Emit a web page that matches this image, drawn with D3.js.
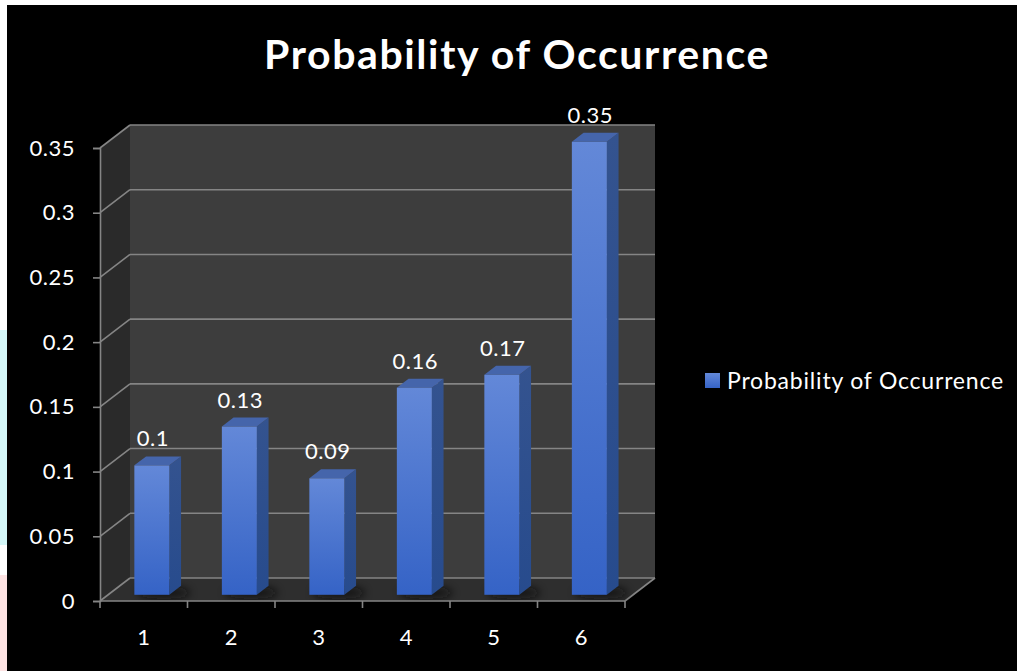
<!DOCTYPE html>
<html>
<head>
<meta charset="utf-8">
<script src="https://cdn.jsdelivr.net/npm/d3@7"></script>
<style>
  html, body { margin: 0; padding: 0; background: #fff; }
  svg { display: block; }
</style>
</head>
<body>
<svg id="chart" width="1017" height="671"></svg>
<script>
// Chart data
const categories = ["1", "2", "3", "4", "5", "6"];
const probabilities = [0.10, 0.13, 0.09, 0.16, 0.17, 0.35];
const yTicks = [0, 0.05, 0.1, 0.15, 0.2, 0.25, 0.3, 0.35];
const yTickLabels = ["0", "0.05", "0.1", "0.15", "0.2", "0.25", "0.3", "0.35"];
const seriesName = "Probability of Occurrence";
const chartTitle = "Probability of Occurrence";

const W = 1017, H = 671;
const FONT = "Lato, 'Open Sans', sans-serif";
const svg = d3.select("#chart");

// page edge behind the slide
svg.append("rect").attr("width", W).attr("height", H).attr("fill", "#ffffff");
svg.append("rect").attr("x", 0).attr("y", 330).attr("width", 7).attr("height", 215).attr("fill", "#d4f7f8");
svg.append("rect").attr("x", 0).attr("y", 575).attr("width", 7).attr("height", 96).attr("fill", "#fde3e3");
svg.append("rect").attr("x", 7).attr("y", 5).attr("width", W - 7).attr("height", H - 5).attr("fill", "#000");

// plot frame: front axis plane and depth offset of the back wall
const x0 = 100, x1 = 625, yBase = 601, yTop = 148;
const DX = 30, DY = -23;           // depth of the walls
const F1 = 0.27, F2 = 0.66;        // bar front / back as fraction of depth

const x = d3.scaleBand().domain(categories).range([x0, x1]).paddingInner(0.6).paddingOuter(0.3);
const y = d3.scaleLinear().domain([0, 0.35]).range([yBase, yTop]);

const defs = svg.append("defs");
const gFront = defs.append("linearGradient").attr("id", "gFront").attr("x1", 0).attr("y1", 0).attr("x2", 0).attr("y2", 1);
gFront.append("stop").attr("offset", "0%").attr("stop-color", "#6388d8");
gFront.append("stop").attr("offset", "100%").attr("stop-color", "#3563c6");
const gSide = defs.append("linearGradient").attr("id", "gSide").attr("x1", 0).attr("y1", 0).attr("x2", 0).attr("y2", 1);
gSide.append("stop").attr("offset", "0%").attr("stop-color", "#34538f");
gSide.append("stop").attr("offset", "100%").attr("stop-color", "#274b8d");
const blur = defs.append("filter").attr("id", "soft").attr("x", "-50%").attr("y", "-50%").attr("width", "200%").attr("height", "200%");
blur.append("feGaussianBlur").attr("stdDeviation", 4);

const pt = (p) => p.map(d => d.join(",")).join(" ");

// walls and floor
svg.append("polygon").attr("points", pt([[x0, yBase], [x0 + DX, yBase + DY], [x0 + DX, yTop + DY], [x0, yTop]]))
  .attr("fill", "#2a2a2a");
svg.append("polygon").attr("points", pt([[x0 + DX, yBase + DY], [x1 + DX, yBase + DY], [x1 + DX, yTop + DY], [x0 + DX, yTop + DY]]))
  .attr("fill", "#3d3d3d");
svg.append("polygon").attr("points", pt([[x0, yBase], [x1, yBase], [x1 + DX, yBase + DY], [x0 + DX, yBase + DY]]))
  .attr("fill", "#2e2e2e");

// gridlines on back and side walls
const grid = svg.append("g").attr("stroke", "#858585").attr("stroke-width", 1.6).attr("fill", "none");
yTicks.forEach(v => {
  grid.append("line").attr("x1", x0 + DX).attr("x2", x1 + DX).attr("y1", y(v) + DY).attr("y2", y(v) + DY);
  grid.append("line").attr("x1", x0).attr("x2", x0 + DX).attr("y1", y(v)).attr("y2", y(v) + DY);
});
// floor right edge
grid.append("line").attr("x1", x1).attr("y1", yBase).attr("x2", x1 + DX).attr("y2", yBase + DY);

// bar shadows on the floor
svg.append("g").selectAll("ellipse").data(probabilities).join("ellipse")
  .attr("cx", (d, i) => x(categories[i]) + x.bandwidth() / 2 + DX * F1 + 12)
  .attr("cy", yBase + DY * F1 - 2)
  .attr("rx", x.bandwidth() * 0.75)
  .attr("ry", 6)
  .attr("fill", "#111")
  .attr("opacity", 0.8)
  .attr("filter", "url(#soft)");

// bars
const bars = svg.append("g").selectAll("g").data(probabilities).join("g");
bars.each(function (d, i) {
  const g = d3.select(this);
  const bx = x(categories[i]) + DX * F1;
  const bw = x.bandwidth();
  const top = y(d) + DY * F1;
  const bot = y(0) + DY * F1;
  const ddx = DX * (F2 - F1), ddy = DY * (F2 - F1);
  g.append("polygon").attr("points", pt([[bx + bw, top], [bx + bw + ddx, top + ddy], [bx + bw + ddx, bot + ddy], [bx + bw, bot]]))
    .attr("fill", "url(#gSide)");
  g.append("polygon").attr("points", pt([[bx, top], [bx + ddx, top + ddy], [bx + bw + ddx, top + ddy], [bx + bw, top]]))
    .attr("fill", "#4565ab");
  g.append("rect").attr("x", bx).attr("y", top).attr("width", bw).attr("height", bot - top)
    .attr("fill", "url(#gFront)");
  g.append("text")
    .attr("x", bx + bw / 2 + 1)
    .attr("y", top + ddy - 10)
    .attr("text-anchor", "middle")
    .attr("fill", "#ffffff")
    .attr("font-family", FONT)
    .attr("font-size", 22)
    .attr("letter-spacing", 0.5)
    .text(d);
});

// y axis
const yAxis = d3.axisLeft(y).tickValues(yTicks).tickFormat((d, i) => yTickLabels[i]).tickSize(7).tickPadding(18);
const ya = svg.append("g").attr("transform", `translate(${x0},0)`).call(yAxis);
ya.select(".domain").attr("stroke", "#858585").attr("stroke-width", 1.6);
ya.selectAll(".tick line").attr("stroke", "#858585").attr("stroke-width", 1.6);
ya.selectAll(".tick text").attr("fill", "#fff").attr("font-family", FONT).attr("font-size", 22).attr("letter-spacing", 0.5);

// x axis: boundary ticks between categories
const xa = svg.append("g").attr("transform", `translate(0,${yBase})`);
xa.append("line").attr("x1", x0).attr("x2", x1).attr("stroke", "#858585").attr("stroke-width", 1.6);
const step = x.step();
d3.range(categories.length + 1).forEach(k => {
  const tx = x0 + k * step;
  xa.append("line").attr("x1", tx).attr("x2", tx).attr("y1", 0).attr("y2", 7)
    .attr("stroke", "#858585").attr("stroke-width", 1.6);
});
xa.selectAll("text").data(categories).join("text")
  .attr("x", d => x(d) + x.bandwidth() / 2)
  .attr("y", 44)
  .attr("text-anchor", "middle")
  .attr("fill", "#fff")
  .attr("font-family", FONT)
  .attr("font-size", 22)
  .text(d => d);

// title
svg.append("text")
  .attr("x", 517).attr("y", 69)
  .attr("text-anchor", "middle")
  .attr("fill", "#fff")
  .attr("font-family", FONT)
  .attr("font-weight", "bold")
  .attr("font-size", 41)
  .attr("letter-spacing", 1.6)
  .text(chartTitle);

// legend
const lg = svg.append("g").attr("transform", "translate(705,373)");
lg.append("rect").attr("width", 15).attr("height", 15).attr("fill", "url(#gFront)");
lg.append("text").attr("x", 22).attr("y", 16)
  .attr("fill", "#fff")
  .attr("font-family", FONT)
  .attr("font-size", 23)
  .attr("letter-spacing", 0.8)
  .text(seriesName);
</script>
</body>
</html>
